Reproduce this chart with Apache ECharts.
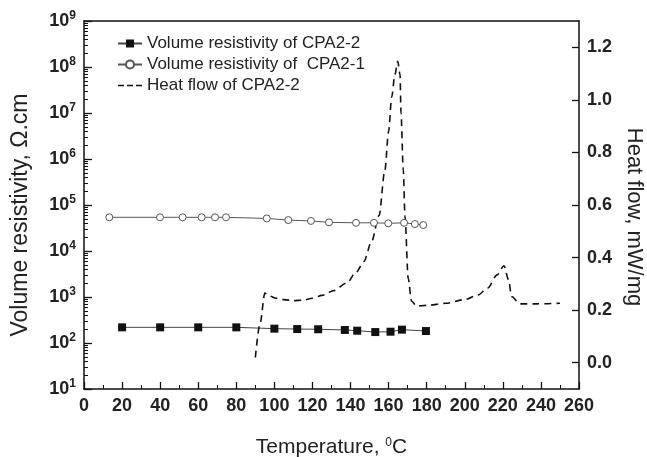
<!DOCTYPE html>
<html>
<head>
<meta charset="utf-8">
<script src="https://cdn.jsdelivr.net/npm/echarts@6/dist/echarts.min.js"></script>
<style>html,body{margin:0;padding:0;background:#fff;}#c{width:647px;height:457px;}</style>
</head>
<body>
<div id="c"></div>
<script>
// ---- data ----
var tempCPA22 = [20, 40, 60, 80, 100, 112, 123, 137, 143.5, 153, 161, 167, 179.6];
var resCPA22 = [219, 219, 219, 219, 205, 201, 199, 192, 185, 173, 176, 195, 182];

var tempCPA21 = [13.3, 39.9, 51.8, 61.8, 68.8, 74.6, 96, 107.3, 119.2, 128.7, 142.9, 152.3, 159.8, 168.1, 173.8, 178.2];
var resCPA21 = [54000, 54000, 54000, 54000, 54000, 54000, 51000, 47000, 45000, 42000, 41000, 41000, 40000, 41000, 38600, 36700];

var tempHeat = [90, 92.5, 95, 97, 101, 105, 110, 115, 120, 125, 131, 138, 143, 147, 151, 155, 158, 160, 161.6, 163.3, 164.8, 166, 166.5, 167.7, 168.6, 170.3, 172, 174.7, 180, 190, 200, 207, 212, 217, 220.6, 223, 224.6, 229, 238, 250];
var heatFlow = [0.02, 0.15, 0.265, 0.255, 0.245, 0.24, 0.236, 0.238, 0.245, 0.256, 0.274, 0.303, 0.345, 0.385, 0.46, 0.56, 0.73, 0.88, 1.01, 1.096, 1.147, 1.096, 0.95, 0.734, 0.556, 0.32, 0.235, 0.216, 0.218, 0.226, 0.24, 0.258, 0.284, 0.334, 0.369, 0.315, 0.252, 0.224, 0.224, 0.226];

var heatTicks = [0, 0.2, 0.4, 0.6, 0.8, 1.0, 1.2];
var seriesNames = ['Volume resistivity of CPA2-2', 'Volume resistivity of  CPA2-1', 'Heat flow of CPA2-2'];

function zip(a, b) { return a.map(function (v, i) { return [v, b[i]]; }); }
// minor log ticks expressed as decade exponents (for a linear helper axis spanning the same 10^1..10^9 range)
var logMinorExp = [];
for (var d = 1; d < 9; d++) { for (var m = 2; m <= 9; m++) { logMinorExp.push(d + Math.log10(m)); } }

var DASH_ICON = 'path://M0,0h0.01v0.01h-0.01zM0,9.99h0.01v0.01h-0.01zM0,4.2h6v1.6h-6zM9,4.2h6v1.6h-6zM18,4.2h6v1.6h-6z';

var FONT = 'Liberation Sans, Arial, sans-serif';
var TICK = '#111';
function axLine() { return { show: true, onZero: false, lineStyle: { color: '#111', width: 1.5 } }; }
var chart = echarts.init(document.getElementById('c'));
chart.setOption({
  animation: false,
  backgroundColor: '#fff',
  textStyle: { fontFamily: FONT },
  grid: { left: 84, right: 68, top: 21, bottom: 68, outerBoundsMode: 'none', containLabel: false, show: false },
  legend: {
    orient: 'vertical', left: 112, top: 30, itemWidth: 24, itemHeight: 10, itemGap: 4,
    textStyle: { fontSize: 17, color: '#222', fontFamily: FONT },
    data: [
      { name: seriesNames[0] },
      { name: seriesNames[1] },
      { name: seriesNames[2], icon: DASH_ICON, itemStyle: { color: '#111' } }
    ]
  },
  xAxis: [
    {
      type: 'value', min: 0, max: 260, interval: 20, position: 'bottom',
      name: 'Temperature, {s|0}C', nameLocation: 'middle', nameGap: 48,
      nameTextStyle: { fontSize: 21, color: '#222', rich: { s: { fontSize: 12, verticalAlign: 'top', color: '#222' } } },
      axisLine: axLine(),
      axisTick: { show: true, inside: true, length: 7, lineStyle: { color: TICK, width: 1.3 } },
      minorTick: { show: true, splitNumber: 2, length: 4, lineStyle: { color: TICK, width: 1 } },
      axisLabel: { fontSize: 18, fontWeight: 'bold', color: '#222', margin: 8 },
      splitLine: { show: false }
    },
    {
      type: 'value', min: 0, max: 260, interval: 20, position: 'top',
      axisLine: axLine(),
      axisTick: { show: false }, axisLabel: { show: false }, splitLine: { show: false }
    }
  ],
  yAxis: [
    {
      type: 'log', logBase: 10, min: 10, max: 1e9, position: 'left',
      name: 'Volume resistivity, \u03A9.cm', nameLocation: 'middle', nameGap: 52,
      nameTextStyle: { fontSize: 23, color: '#222', padding: [0, 20, 0, 0] },
      axisLine: axLine(),
      axisTick: { show: true, inside: true, length: 8, lineStyle: { color: TICK, width: 1.3 } },
      axisLabel: {
        margin: 8, color: '#222',
        formatter: function (v) { return '{b|10}{s|' + Math.round(Math.log10(v)) + '}'; },
        rich: { b: { fontSize: 18, fontWeight: 'bold', color: '#222', lineHeight: 22 }, s: { fontSize: 12, fontWeight: 'bold', verticalAlign: 'top', color: '#222' } }
      },
      splitLine: { show: false }
    },
    {
      type: 'value', min: 1, max: 9, position: 'left',
      axisLine: { show: false, onZero: false },
      axisTick: { show: true, inside: true, length: 4, customValues: logMinorExp, lineStyle: { color: TICK, width: 1 } },
      axisLabel: { show: false },
      splitLine: { show: false }
    },
    {
      type: 'value', min: -0.1, max: 1.3, position: 'right',
      name: 'Heat flow, mW/mg', nameLocation: 'middle', nameGap: 42, nameRotate: -90,
      nameTextStyle: { fontSize: 22, color: '#222', padding: [0, 0, 0, 24] },
      axisLine: axLine(),
      axisTick: { show: true, inside: true, length: 7, customValues: heatTicks, lineStyle: { color: TICK, width: 1.3 } },
      axisLabel: { fontSize: 18, fontWeight: 'bold', color: '#222', margin: 8, customValues: heatTicks, formatter: function (v) { return v.toFixed(1); } },
      splitLine: { show: false }
    }
  ],
  series: [
    {
      name: seriesNames[0], type: 'line', yAxisIndex: 0, data: zip(tempCPA22, resCPA22),
      symbol: 'rect', symbolSize: 8, itemStyle: { color: '#111' },
      lineStyle: { color: '#444', width: 1 }
    },
    {
      name: seriesNames[1], type: 'line', yAxisIndex: 0, data: zip(tempCPA21, resCPA21),
      symbol: 'circle', symbolSize: 7, itemStyle: { color: '#fff', borderColor: '#555', borderWidth: 1 },
      lineStyle: { color: '#555', width: 1 }
    },
    {
      name: seriesNames[2], type: 'line', yAxisIndex: 2, data: zip(tempHeat, heatFlow),
      showSymbol: false, symbol: 'none', smooth: 0.3, smoothMonotone: 'x',
      itemStyle: { color: '#111' },
      lineStyle: { color: '#111', width: 1.6, type: [7, 5] }
    }
  ]
});
</script>
</body>
</html>
